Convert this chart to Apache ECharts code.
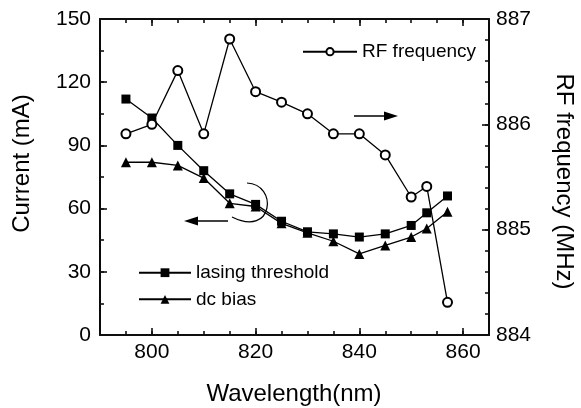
<!DOCTYPE html>
<html>
<head>
<meta charset="utf-8">
<script src="https://cdn.jsdelivr.net/npm/echarts@6/dist/echarts.min.js"></script>
<style>
html,body{margin:0;padding:0;background:#fff;}
#chart{width:581px;height:408px;}
</style>
</head>
<body>
<div id="chart"></div>
<script>
const wavelength = [795, 800, 805, 810, 815, 820, 825, 830, 835, 840, 845, 850, 853, 857];
const lasingThreshold = [112, 103, 90, 78, 67, 62, 54, 49, 48, 46.5, 48, 52, 58, 66];
const dcBias = [82, 82, 80.5, 74.5, 62.5, 61, 53, 48.5, 44.5, 38.5, 42.5, 46.5, 50.5, 58.5];
const rfFrequency = [885.91, 886.0, 886.51, 885.91, 886.81, 886.31, 886.21, 886.1, 885.91, 885.91, 885.71, 885.31, 885.41, 884.31];
const xMajorTicks = [800, 820, 840, 860];
const FONT = 'Liberation Sans, Arial, sans-serif';

const chart = echarts.init(document.getElementById('chart'), null, {renderer: 'canvas'});
const pairs = (ys) => wavelength.map((x, i) => [x, ys[i]]);
const black = '#000';
const tickColor = '#111111';
const grid = {left: 100, right: 92, top: 19, bottom: 73};
const MAJOR = 7, MINOR = 4;

function xAx(pos, major, labels) {
  return {
    type: 'value', position: pos, min: 790, max: 865,
    interval: 5,
    axisLine: {show: true, onZero: false, lineStyle: {color: black, width: 1.6}},
    axisTick: major ? {show: true, inside: true, length: MAJOR, customValues: xMajorTicks, lineStyle: {color: tickColor, width: 1.6}}
                    : {show: true, inside: true, length: MINOR, lineStyle: {color: tickColor, width: 1.6}},
    axisLabel: labels ? {show: true, fontSize: 21, fontFamily: FONT, color: black, margin: 7,
      formatter: v => (v % 20 === 0 ? String(v) : '')} : {show: false},
    splitLine: {show: false}
  };
}
function yAx(pos, min, max, interval, tickLen, labels) {
  return {
    type: 'value', position: pos, min: min, max: max, interval: interval,
    axisLine: {show: true, onZero: false, lineStyle: {color: black, width: 1.6}},
    axisTick: {show: true, inside: true, length: tickLen, lineStyle: {color: tickColor, width: 1.6}},
    axisLabel: labels ? {show: true, fontSize: 21, fontFamily: FONT, color: black, margin: pos === 'left' ? 9 : 7} : {show: false},
    splitLine: {show: false}
  };
}

const option = {
  backgroundColor: '#fff',
  animation: false,
  grid: grid,
  xAxis: [
    xAx('bottom', false, true),
    xAx('bottom', true, false),
    xAx('top', false, false),
    xAx('top', true, false)
  ],
  yAxis: [
    yAx('left', 0, 150, 30, MAJOR, true),
    yAx('right', 884, 887, 1, MAJOR, true),
    yAx('left', 0, 150, 15, MINOR, false),
    yAx('right', 884, 887, 0.2, MINOR, false)
  ],
  legend: [
    {
      data: ['RF frequency'], left: 302, top: 41.7, padding: 0,
      itemWidth: 54, itemHeight: 9,
      textStyle: {fontSize: 19, fontFamily: FONT, color: black, lineHeight: 20}
    },
    {
      data: ['lasing threshold', 'dc bias'], orient: 'vertical', left: 138, top: 262.7, padding: 0,
      itemWidth: 52, itemHeight: 11, itemGap: 6.6,
      textStyle: {fontSize: 19, fontFamily: FONT, color: black, lineHeight: 20}
    }
  ],
  series: [
    {
      name: 'lasing threshold', type: 'line', xAxisIndex: 0, yAxisIndex: 0,
      data: pairs(lasingThreshold), symbol: 'rect', symbolSize: 9,
      itemStyle: {color: black}, lineStyle: {color: black, width: 1.3}
    },
    {
      name: 'dc bias', type: 'line', xAxisIndex: 0, yAxisIndex: 0,
      data: pairs(dcBias), symbol: 'triangle', symbolSize: 10,
      itemStyle: {color: black}, lineStyle: {color: black, width: 1.3}
    },
    {
      name: 'RF frequency', type: 'line', xAxisIndex: 0, yAxisIndex: 1,
      data: pairs(rfFrequency), symbol: 'emptyCircle', symbolSize: 9,
      itemStyle: {color: black, borderWidth: 1.2}, lineStyle: {color: black, width: 1.3}
    }
  ],
  graphic: [
    {type: 'text', x: 22, y: 163.5, rotation: Math.PI / 2,
     style: {text: 'Current (mA)', font: '24px ' + FONT, fill: black, align: 'center', verticalAlign: 'middle'}},
    {type: 'text', x: 563.5, y: 181.5, rotation: -Math.PI / 2,
     style: {text: 'RF frequency (MHz)', font: '24px ' + FONT, fill: black, align: 'center', verticalAlign: 'middle'}},
    {type: 'text', x: 294, y: 394,
     style: {text: 'Wavelength(nm)', font: '24px ' + FONT, fill: black, align: 'center', verticalAlign: 'middle'}},
    {type: 'line', shape: {x1: 195, y1: 221, x2: 228, y2: 221}, style: {stroke: black, lineWidth: 1.5}},
    {type: 'polygon', shape: {points: [[184, 221], [198, 216.5], [198, 225.5]]}, style: {fill: black}},
    {type: 'line', shape: {x1: 354, y1: 116, x2: 387, y2: 116}, style: {stroke: black, lineWidth: 1.5}},
    {type: 'polygon', shape: {points: [[398, 116], [384, 111.5], [384, 120.5]]}, style: {fill: black}},
    {type: 'bezierCurve', shape: {x1: 247, y1: 183, cpx1: 278, cpy1: 184, cpx2: 274, cpy2: 238, x2: 232, y2: 217},
     style: {stroke: black, fill: null, lineWidth: 1.2}}
  ]
};
chart.setOption(option);
</script>
</body>
</html>
